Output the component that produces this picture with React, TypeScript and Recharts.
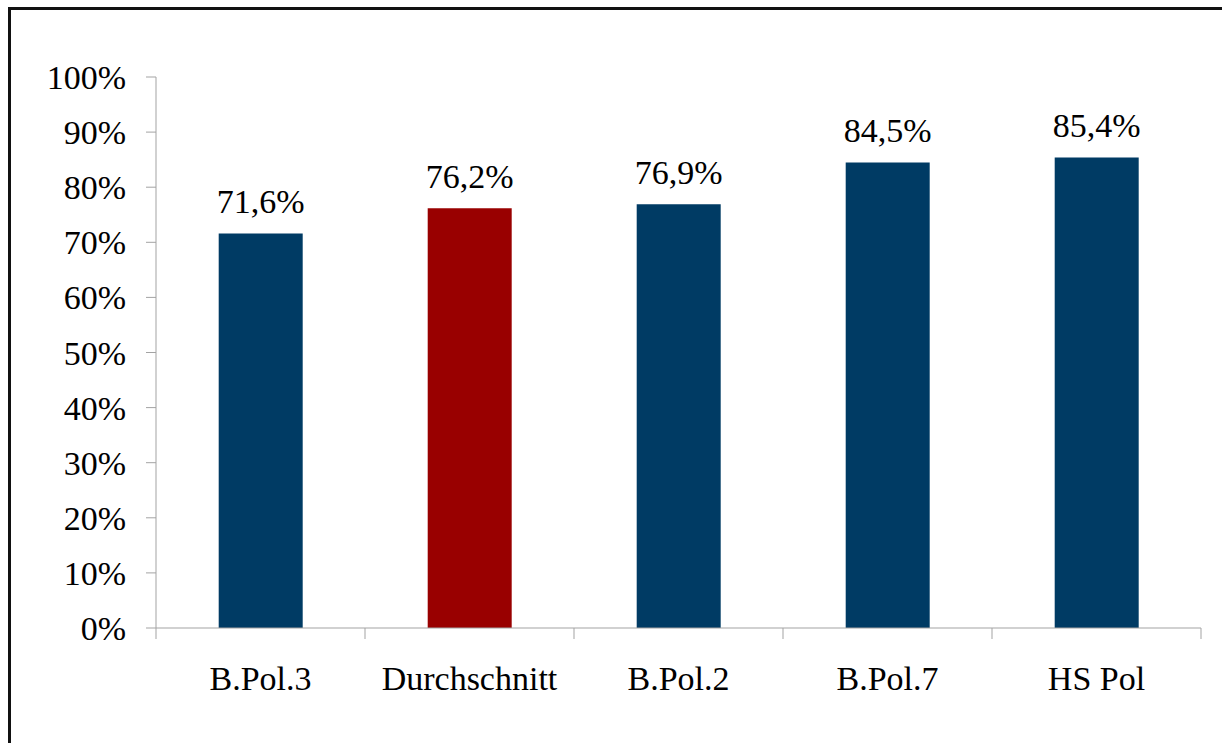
import { BarChart, Bar, XAxis, YAxis, Cell, LabelList } from 'recharts'

const categories = ['B.Pol.3', 'Durchschnitt', 'B.Pol.2', 'B.Pol.7', 'HS Pol']
const values = [71.6, 76.2, 76.9, 84.5, 85.4]
const barColors = ['#003B64', '#990000', '#003B64', '#003B64', '#003B64']
const yTicks = [0, 10, 20, 30, 40, 50, 60, 70, 80, 90, 100]

const FONT = '"Liberation Serif", serif'
const FONT_SIZE = 34
const AXIS_GRAY = '#a3a3a3'

const data = categories.map((name, i) => ({ name, value: values[i], color: barColors[i] }))

function CategoryTick(props: any) {
  const { x, y, payload, index } = props
  const half = payload?.offset ?? 0
  const last = index === categories.length - 1
  return (
    <g>
      <line x1={x - half} y1={y} x2={x - half} y2={y + 11} stroke={AXIS_GRAY} strokeWidth={1} />
      {last && <line x1={x + half} y1={y} x2={x + half} y2={y + 11} stroke={AXIS_GRAY} strokeWidth={1} />}
      <text x={x} y={y + 62} textAnchor="middle" fill="#000" fontSize={FONT_SIZE} fontFamily={FONT}>
        {payload.value}
      </text>
    </g>
  )
}

export default function App() {
  return (
    <div style={{ position: 'fixed', left: 0, top: 0, width: 1222, height: 743, overflow: 'hidden', background: '#fff' }}>
      <div
        style={{
          position: 'absolute',
          left: 8,
          top: 7,
          width: 1240,
          height: 760,
          border: '3px solid #111',
          boxSizing: 'border-box',
        }}
      />
      <div style={{ position: 'absolute', left: 0, top: 0 }}>
        <BarChart
          width={1222}
          height={743}
          data={data}
          margin={{ top: 77, right: 21, left: 10, bottom: 15 }}
          barCategoryGap="30%"
        >
          <XAxis
            dataKey="name"
            height={100}
            axisLine={{ stroke: AXIS_GRAY, strokeWidth: 1 }}
            tickLine={false}
            tickSize={0}
            tickMargin={0}
            interval={0}
            tick={<CategoryTick />}
          />
          <YAxis
            width={146}
            domain={[0, 100]}
            ticks={yTicks}
            interval={0}
            axisLine={{ stroke: AXIS_GRAY, strokeWidth: 1 }}
            tickLine={{ stroke: AXIS_GRAY, strokeWidth: 1 }}
            tickSize={10}
            tickMargin={20}
            tickFormatter={(v: number) => `${v}%`}
            tick={{ fill: '#000', fontSize: FONT_SIZE, fontFamily: FONT }}
          />
          <Bar dataKey="value" isAnimationActive={false}>
            {data.map((d) => (
              <Cell key={d.name} fill={d.color} />
            ))}
            <LabelList
              dataKey="value"
              position="top"
              offset={20}
              formatter={(v: any) => `${Number(v).toFixed(1).replace('.', ',')}%`}
              style={{ fill: '#000', fontSize: FONT_SIZE, fontFamily: FONT }}
            />
          </Bar>
        </BarChart>
      </div>
    </div>
  )
}
